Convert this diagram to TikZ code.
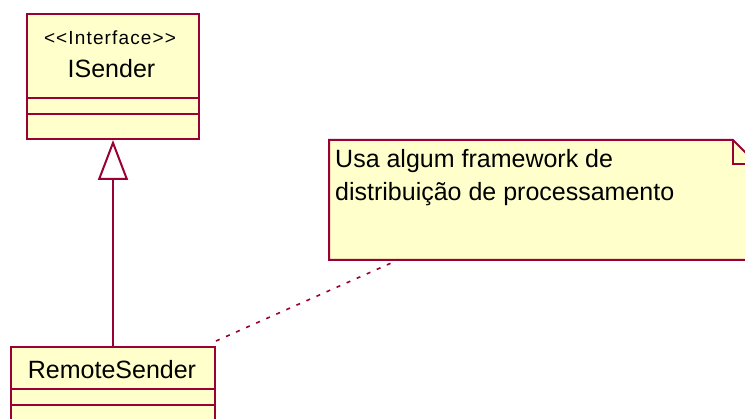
\documentclass[tikz,border=0pt]{standalone}
\usepackage{fontspec}
\setmainfont{Liberation Sans}
\newfontfamily\stereofont[Ligatures=TeXOff, LetterSpace=6]{Liberation Sans}
\usetikzlibrary{arrows.meta}
\definecolor{umlline}{RGB}{153,0,51}
\definecolor{umlfill}{RGB}{255,255,204}
\tikzset{
  umlbox/.style={draw=umlline, fill=umlfill, line width=2pt, inner sep=0pt, rectangle},
  umltext/.style={inner sep=0pt, anchor=base, text=black, font=\fontsize{25}{30}\selectfont},
  stereo/.style={inner sep=0pt, anchor=base, text=black, font=\stereofont\fontsize{19}{22}\selectfont},
  divider/.style={draw=umlline, line width=2pt},
  genline/.style={draw=umlline, line width=2pt, -{Triangle[length=40pt,width=30pt,fill=white,line width=2pt]}},
  anchorline/.style={draw=umlline, line width=1.6pt, dash pattern=on 4pt off 7pt},
}
\begin{document}
\begin{tikzpicture}[x=1pt,y=-1pt]
\useasboundingbox (0,0) rectangle (745,419);
\clip (0,0) rectangle (745,419);
\fill[white] (0,0) rectangle (745,419);

% ISender
\node[umlbox, minimum width=172pt, minimum height=125pt] (isender) at (113,76.5) {};
\draw[divider] (27,98) -- (199,98);
\draw[divider] (27,114) -- (199,114);
\node[stereo] (isstereo) at (110,45) {<<Interface>>};
\node[umltext] (isname) at (111.5,78) {ISender};

% RemoteSender
\node[umlbox, minimum width=204pt, minimum height=120pt] (remote) at (113,407) {};
\draw[divider] (11,389) -- (215,389);
\draw[divider] (11,405) -- (215,405);
\node[umltext] (rsname) at (112,379) {RemoteSender};

% Note
\coordinate (notetl) at (329,140);
\coordinate (notebr) at (790,260);
\coordinate (foldtop) at (733,140);
\coordinate (foldin) at (733,164);
\coordinate (foldout) at (757,164);
\filldraw[draw=umlline, fill=umlfill, line width=2pt]
  (notetl) -- (foldtop) -- (foldout) -- (notebr -| foldout) -- (notebr) -- (notetl |- notebr) -- cycle;
\draw[draw=umlline, line width=2pt] (foldtop) -- (foldin) -- (foldout);
\node[umltext, anchor=base west, align=left, font=\fontsize{25}{33}\selectfont] (notetext) at (335,201)
  {Usa algum framework de\\distribuição de processamento};
\coordinate (noteanchor) at (398,260);

% connectors
\draw[genline] (remote.north) -- (isender.south);
\draw[anchorline] (remote.north east) ++(0,-5) -- (noteanchor);
\end{tikzpicture}
\end{document}
